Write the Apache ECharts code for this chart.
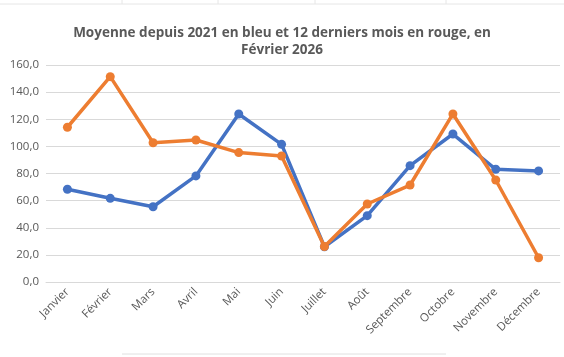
<!DOCTYPE html>
<html><head><meta charset="utf-8">
<script src="https://cdn.jsdelivr.net/npm/echarts@6/dist/echarts.min.js"></script>
<style>html,body{margin:0;padding:0;background:#fff}#c{width:564px;height:357px}</style>
</head><body><div id="c"></div>
<script>
const categories = ["Janvier","Février","Mars","Avril","Mai","Juin","Juillet","Août","Septembre","Octobre","Novembre","Décembre"];
const moyenne2021 = [68.4, 61.7, 55.5, 78.2, 123.9, 101.5, 26.0, 48.9, 85.8, 109.1, 83.1, 81.9];
const douzeDerniersMois = [114.1, 151.4, 102.7, 104.7, 95.4, 92.9, 26.2, 57.5, 71.5, 123.9, 75.2, 17.9];
const titleText = "Moyenne depuis 2021 en bleu et 12 derniers mois en rouge, en\nFévrier 2026";

const chart = echarts.init(document.getElementById('c'));
const font = "'Open Sans', 'Noto Sans', sans-serif";
chart.setOption({
  animation: false,
  backgroundColor: '#fff',
  title: {
    text: titleText, left: 'center', top: 20,
    textStyle: {fontFamily: font, fontSize: 13.5, fontWeight: 'bold', color: '#595959', lineHeight: 17}
  },
  grid: {left: 46, right: 4, top: 65, bottom: 75, containLabel: false},
  xAxis: {
    type: 'category', data: categories, boundaryGap: true,
    axisLine: {lineStyle: {color: '#d9d9d9', width: 1}},
    axisTick: {show: false},
    axisLabel: {rotate: 45, fontFamily: font, fontSize: 11.5, color: '#595959', margin: 8, interval: 0}
  },
  yAxis: {
    type: 'value', min: 0, max: 160, interval: 20,
    axisLine: {show: false}, axisTick: {show: false},
    splitLine: {lineStyle: {color: '#d9d9d9', width: 1}},
    axisLabel: {fontFamily: font, fontSize: 11.5, color: '#595959', margin: 7,
      formatter: v => v.toFixed(1).replace('.', ',')}
  },
  series: [
    {name: 'Moyenne depuis 2021', type: 'line', data: moyenne2021, symbol: 'circle', symbolSize: 9,
     lineStyle: {color: '#4472C4', width: 3.5}, itemStyle: {color: '#4472C4'}, z: 2},
    {name: '12 derniers mois', type: 'line', data: douzeDerniersMois, symbol: 'circle', symbolSize: 9,
     lineStyle: {color: '#ED7D31', width: 3.5}, itemStyle: {color: '#ED7D31'}, z: 3}
  ],
  graphic: [
    {type: 'line', shape: {x1: 0, y1: 4, x2: 564, y2: 4}, style: {stroke: '#e6e6e6', lineWidth: 1}},
    {type: 'line', shape: {x1: 122, y1: 0, x2: 122, y2: 4}, style: {stroke: '#e6e6e6', lineWidth: 1}},
    {type: 'line', shape: {x1: 218, y1: 0, x2: 218, y2: 4}, style: {stroke: '#e6e6e6', lineWidth: 1}},
    {type: 'line', shape: {x1: 315, y1: 0, x2: 315, y2: 4}, style: {stroke: '#e6e6e6', lineWidth: 1}},
    {type: 'line', shape: {x1: 446, y1: 0, x2: 446, y2: 4}, style: {stroke: '#e6e6e6', lineWidth: 1}},
    {type: 'line', shape: {x1: 122, y1: 354, x2: 446, y2: 354}, style: {stroke: '#e0e0e0', lineWidth: 1}}
  ]
});
</script></body></html>
